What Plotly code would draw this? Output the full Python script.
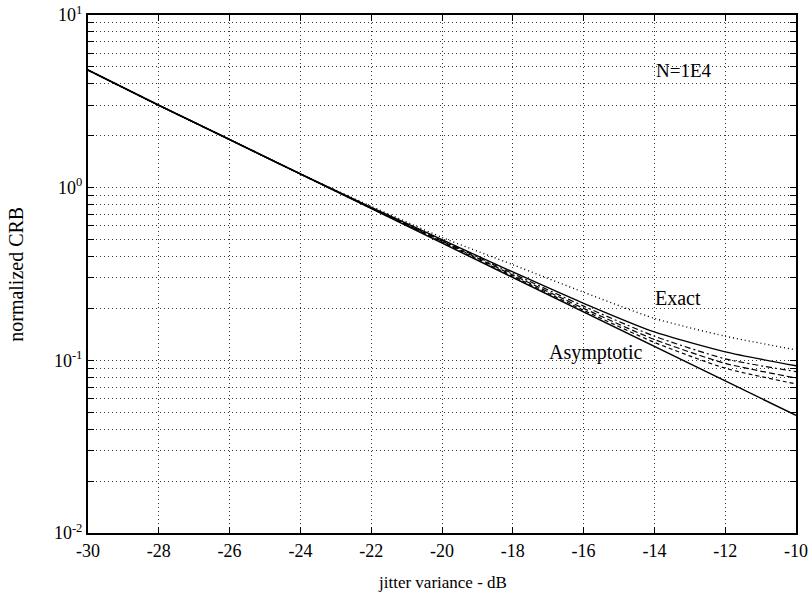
import plotly.graph_objects as go

# Jitter variance (dB) sample points
jitter_db = [-30, -28, -26, -24, -22, -20, -18, -16, -14, -12, -10]
x_tick_labels = ["-30", "-28", "-26", "-24", "-22", "-20", "-18", "-16", "-14", "-12", "-10"]

# Normalized CRB, asymptotic bound
crb_asymptotic = [4.8, 3.0, 1.9, 1.2, 0.76, 0.48, 0.30, 0.19, 0.12, 0.076, 0.048]

# Normalized CRB, exact bounds (N = 1E4)
crb_exact_dotted = [4.8, 3.0, 1.9, 1.2, 0.78, 0.515, 0.358, 0.248, 0.175, 0.138, 0.115]
crb_exact_solid = [4.8, 3.0, 1.9, 1.2, 0.77, 0.50, 0.325, 0.214, 0.146, 0.112, 0.093]
crb_exact_dashdot = [4.8, 3.0, 1.9, 1.2, 0.765, 0.495, 0.318, 0.206, 0.138, 0.102, 0.086]
crb_exact_dash = [4.8, 3.0, 1.9, 1.2, 0.762, 0.49, 0.312, 0.200, 0.132, 0.096, 0.079]
crb_exact_dash2 = [4.8, 3.0, 1.9, 1.2, 0.76, 0.485, 0.307, 0.195, 0.127, 0.090, 0.073]

# Log-axis ticks: every 1..9 x 10^k, labelled only at decades
y_decades = [-2, -1, 0, 1]
y_tick_vals = []
y_tick_text = []
for k in y_decades:
    for m in range(1, 10):
        if k == 1 and m > 1:
            break
        y_tick_vals.append(m * 10.0 ** k)
        y_tick_text.append(f"10<sup>{k}</sup>" if m == 1 else "")

FONT = "Liberation Serif"

fig = go.Figure()

exact_series = [
    (crb_exact_dotted, "1px,3px", 1.4),
    (crb_exact_dash2, "4px,3px", 1.2),
    (crb_exact_dash, "6px,3px", 1.2),
    (crb_exact_dashdot, "6px,3px,2px,3px", 1.2),
    (crb_exact_solid, "solid", 1.4),
]
for values, dash, width in exact_series:
    fig.add_trace(go.Scatter(
        x=jitter_db, y=values, mode="lines",
        line=dict(color="black", width=width, dash=dash, shape="spline", smoothing=0.6),
        showlegend=False, hoverinfo="skip",
    ))

fig.add_trace(go.Scatter(
    x=jitter_db, y=crb_asymptotic, mode="lines",
    line=dict(color="black", width=1.5),
    showlegend=False, hoverinfo="skip",
))

# In-plot labels (centred on their anchor points)
labels = [
    ("N=1E4", 0.842, 0.892, 19),
    ("Exact", 0.833, 0.454, 20),
    ("Asymptotic", 0.7175, 0.349, 20),
]
for text, px, py, size in labels:
    fig.add_annotation(text=text, xref="paper", yref="paper", x=px, y=py,
                       xanchor="center", yanchor="middle", showarrow=False,
                       font=dict(family=FONT, size=size, color="black"))

# Axis titles placed in the margins
fig.add_annotation(text="jitter variance - dB", xref="paper", yref="paper",
                   x=0.5, y=-0.095, xanchor="center", yanchor="middle", showarrow=False,
                   font=dict(family=FONT, size=17, color="black"))
fig.add_annotation(text="normalized CRB", xref="paper", yref="paper",
                   x=-0.102, y=0.5, xanchor="center", yanchor="middle", textangle=-90,
                   showarrow=False, font=dict(family=FONT, size=20, color="black"))

fig.update_layout(
    width=811, height=606,
    margin=dict(l=88, r=15, t=15, b=73),
    paper_bgcolor="white", plot_bgcolor="white",
    font=dict(family=FONT, size=17, color="black"),
    xaxis=dict(
        range=[-30, -10], automargin=False,
        tickmode="array", tickvals=jitter_db, ticktext=x_tick_labels,
        ticks="inside", ticklen=6, tickwidth=1, tickcolor="black",
        showline=True, linewidth=2, linecolor="black", mirror="allticks",
        showgrid=True, gridcolor="#333", gridwidth=1, griddash="1px,3px",
        zeroline=False,
        tickfont=dict(family=FONT, size=18, color="black"),
    ),
    yaxis=dict(
        type="log", range=[-2, 1], automargin=False,
        tickmode="array", tickvals=y_tick_vals, ticktext=y_tick_text,
        ticks="inside", ticklen=6, tickwidth=1, tickcolor="black",
        showline=True, linewidth=2, linecolor="black", mirror="allticks",
        showgrid=True, gridcolor="#333", gridwidth=1, griddash="1px,3px",
        zeroline=False,
        tickfont=dict(family=FONT, size=18, color="black"),
    ),
)

fig.write_html("out.html")
